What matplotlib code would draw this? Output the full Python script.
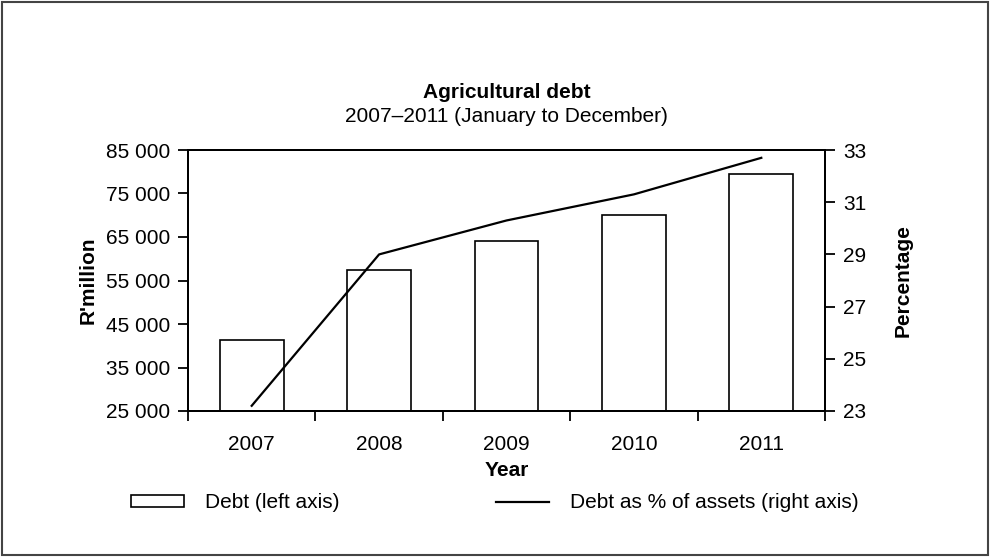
import matplotlib
matplotlib.use("Agg")
import matplotlib.pyplot as plt
from matplotlib.patches import Rectangle
from matplotlib.ticker import FuncFormatter

plt.rcParams['font.family'] = ['Liberation Sans', 'DejaVu Sans']

years = ["2007", "2008", "2009", "2010", "2011"]
debt = [41400, 57500, 64000, 70000, 79400]
debt_pct = [23.2, 29.0, 30.3, 31.3, 32.7]
left_ticks = [25000, 35000, 45000, 55000, 65000, 75000, 85000]
right_ticks = [23, 25, 27, 29, 31, 33]

W, H = 990, 557
FS = 15
fig = plt.figure(figsize=(W / 100, H / 100), dpi=100)
L, R, T, B = 188, 825, 150, 411
ax = fig.add_axes([L / W, 1 - B / H, (R - L) / W, (B - T) / H])
x = list(range(len(years)))
ax.bar(x, debt, width=0.5, color='white', edgecolor='black', linewidth=1.2,
       label='Debt (left axis)', zorder=2)
ax.set_ylim(25000, 85000)
ax.set_xlim(-0.5, len(years) - 0.5)
ax.set_yticks(left_ticks)
ax.yaxis.set_major_formatter(FuncFormatter(lambda v, p: f"{int(v):,}".replace(",", " ")))
ax.set_xticks([i + 0.5 for i in range(-1, len(years))])
ax.set_xticklabels([])
ax.set_xticks(x, minor=True)
ax.set_xticklabels(years, minor=True)
ax.tick_params(axis='x', which='major', length=7, width=1.3, direction='out')
ax.tick_params(axis='x', which='minor', length=0, pad=17, labelsize=FS)
ax.tick_params(axis='y', length=7, width=1.3, direction='out', pad=6, labelsize=FS)
for s in ax.spines.values():
    s.set_linewidth(1.4)
ax.set_ylabel("R'million", fontsize=FS, fontweight='bold', va='center', ha='center')
ax.yaxis.set_label_coords((88 - L) / (R - L), 0.5)
ax.set_xlabel("Year", fontsize=FS, fontweight='bold', va='center', ha='center')
ax.xaxis.set_label_coords(0.5, -(470 - B) / (B - T))

ax2 = ax.twinx()
ax2.plot(x, debt_pct, color='black', linewidth=1.6, label='Debt as % of assets (right axis)')
ax2.set_ylim(23, 33)
ax2.set_yticks(right_ticks)
ax2.tick_params(axis='y', length=7, width=1.3, direction='out', pad=6, labelsize=FS)
ax2.set_ylabel("Percentage", fontsize=FS, fontweight='bold', va='center', ha='center')
ax2.yaxis.set_label_coords((903 - L) / (R - L), 0.5)
for s in ax2.spines.values():
    s.set_linewidth(1.4)

cx = (L + R) / 2 / W
fig.text(cx, 1 - 93 / H, "Agricultural debt", ha='center', va='center',
         fontsize=FS, fontweight='bold')
fig.text(cx, 1 - 116 / H, "2007\u20132011 (January to December)", ha='center',
         va='center', fontsize=FS)

h1, l1 = ax.get_legend_handles_labels()
h2, l2 = ax2.get_legend_handles_labels()
fig.legend(h1 + h2, l1 + l2, ncol=2, loc='center left', bbox_to_anchor=(131 / W, 1 - 503 / H),
           frameon=False, fontsize=FS, handlelength=2.55, handleheight=0.55,
           handletextpad=1.0, columnspacing=7.5, borderpad=0, borderaxespad=0)

fig.add_artist(Rectangle((0.002, 0.003), 0.996, 0.994, transform=fig.transFigure,
                         fill=False, edgecolor='#444444', linewidth=1.5))

fig.savefig("out.png", dpi=100)
